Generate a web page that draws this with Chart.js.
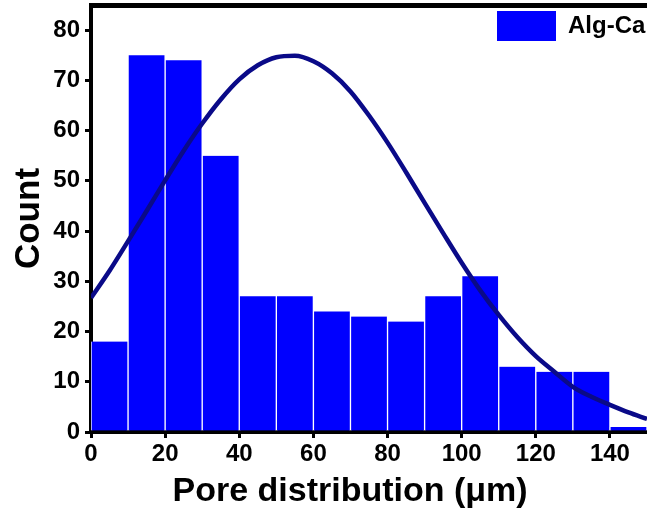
<!DOCTYPE html>
<html>
<head>
<meta charset="utf-8">
<script src="https://cdn.jsdelivr.net/npm/chart.js@4/dist/chart.umd.min.js"></script>
<style>
  html, body { margin: 0; padding: 0; background: #ffffff; }
  #wrap { width: 647px; height: 516px; }
</style>
</head>
<body>
<div id="wrap"><canvas id="c" width="647" height="516"></canvas></div>
<script>
// ---- data ----
const binCenters = [5, 15, 25, 35, 45, 55, 65, 75, 85, 95, 105, 115, 125, 135, 145];
const counts     = [18, 75, 74, 55, 27, 27, 24, 23, 22, 27, 31, 13, 12, 12, 1];
const curveX = [0, 5, 10, 15, 20, 25, 30, 35, 40, 45, 50, 55, 60, 65, 70, 75, 80, 85, 90, 95, 100, 105, 110, 115, 120, 125, 130, 135, 140, 145, 150];
const curveY = [26.7, 32.1, 38.0, 44.0, 50.1, 56.0, 61.4, 66.2, 70.2, 73.0, 74.6, 74.9, 73.8, 71.4, 67.8, 63.0, 57.6, 51.7, 45.6, 39.6, 33.7, 28.2, 23.3, 18.9, 15.1, 12.0, 9.0, 7.0, 5.4, 3.9, 2.6];
const xTicks = [0, 20, 40, 60, 80, 100, 120, 140];
const yTicks = [0, 10, 20, 30, 40, 50, 60, 70, 80];
const seriesName = 'Alg-Ca';
const xTitle = 'Pore distribution (μm)';
const yTitle = 'Count';

const barData = binCenters.map((x, i) => ({ x: x, y: counts[i] }));
const lineData = curveX.map((x, i) => ({ x: x, y: curveY[i] }));

const FONT = 'Liberation Sans, Arial, sans-serif';

// place the legend in the upper-right corner of the plot area
const legendPlace = {
  id: 'legendPlace',
  afterLayout(chart) {
    const lg = chart.legend;
    const ca = chart.chartArea;
    if (!lg) return;
    const w = lg.width, h = lg.height;
    lg.left = ca.right - 156;
    lg.right = lg.left + w;
    lg.top = ca.top;
    lg.bottom = lg.top + h;
  }
};

new Chart(document.getElementById('c'), {
  type: 'bar',
  data: {
    datasets: [
      {
        type: 'line',
        label: 'fit',
        data: lineData,
        borderColor: '#0a0a88',
        borderWidth: 4.5,
        pointRadius: 0,
        fill: false,
        cubicInterpolationMode: 'monotone',
        order: 0
      },
      {
        type: 'bar',
        label: seriesName,
        data: barData,
        backgroundColor: '#0000ff',
        borderColor: '#ffffff',
        borderWidth: { left: 1, right: 1, top: 0, bottom: 0 },
        borderSkipped: false,
        barPercentage: 1,
        categoryPercentage: 1,
        order: 1
      }
    ]
  },
  plugins: [legendPlace],
  options: {
    responsive: false,
    animation: false,
    devicePixelRatio: 1,
    layout: { padding: { left: 0, right: 0, top: 5, bottom: 0 } },
    plugins: {
      tooltip: { enabled: false },
      legend: {
        position: 'chartArea',
        align: 'start',
        labels: {
          boxWidth: 59,
          boxHeight: 30,
          padding: 6,
          color: '#111111',
          generateLabels: (chart) => [{
            text: seriesName,
            fillStyle: '#0000ff',
            strokeStyle: '#0000ff',
            lineWidth: 0,
            hidden: false,
            datasetIndex: 1
          }],
          font: { family: FONT, size: 24, weight: 'bold' }
        }
      }
    },
    scales: {
      x: {
        type: 'linear',
        position: 'bottom',
        min: 0,
        max: 150,
        offset: false,
        afterBuildTicks: (s) => { s.ticks = xTicks.map(v => ({ value: v })); },
        afterFit: (s) => { s.height = 84; s.paddingLeft = 0; s.paddingRight = 0; },
        ticks: {
          color: '#000000',
          padding: 2,
          maxRotation: 0,
          autoSkip: false,
          font: { family: FONT, size: 24, weight: 'bold' }
        },
        grid: {
          display: true,
          drawOnChartArea: false,
          drawTicks: true,
          tickLength: 6,
          color: '#000000',
          lineWidth: 3,
          offset: false
        },
        border: { display: true, color: '#000000', width: 4 },
        title: {
          display: true,
          text: xTitle + '    ',
          color: '#000000',
          padding: { top: 0, bottom: 4 },
          font: { family: FONT, size: 34, weight: 'bold' }
        }
      },
      xTop: {
        type: 'linear',
        position: 'top',
        min: 0,
        max: 150,
        offset: false,
        afterFit: (s) => { s.height = 0; s.paddingLeft = 0; s.paddingRight = 0; },
        ticks: { display: false },
        grid: { display: false, drawOnChartArea: false, drawTicks: false },
        border: { display: true, color: '#000000', width: 5 }
      },
      y: {
        type: 'linear',
        position: 'left',
        min: 0,
        max: 85,
        afterBuildTicks: (s) => { s.ticks = yTicks.map(v => ({ value: v })); },
        afterFit: (s) => { s.width = 91; s.paddingTop = 0; s.paddingBottom = 0; },
        ticks: {
          color: '#000000',
          padding: 5,
          font: { family: FONT, size: 24, weight: 'bold' }
        },
        grid: {
          display: true,
          drawOnChartArea: false,
          drawTicks: true,
          tickLength: 6,
          color: '#000000',
          lineWidth: 3
        },
        border: { display: true, color: '#000000', width: 4 },
        title: {
          display: true,
          text: yTitle,
          color: '#000000',
          padding: { top: 8, bottom: 0 },
          font: { family: FONT, size: 35, weight: 'bold' }
        }
      }
    }
  }
});
</script>
</body>
</html>
